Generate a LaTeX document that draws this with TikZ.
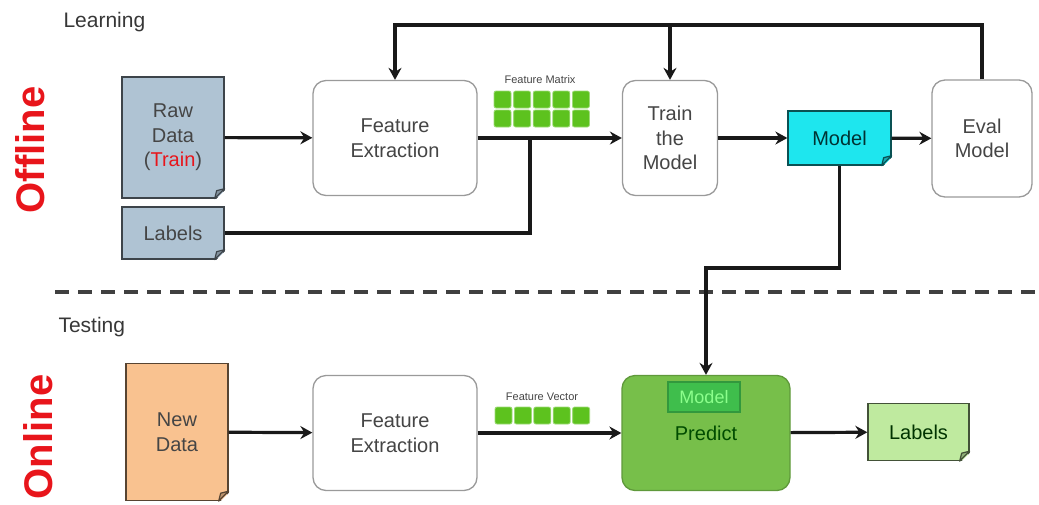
\documentclass[tikz,border=0pt]{standalone}
\usepackage{fontspec}
\setmainfont{Liberation Sans}
\usetikzlibrary{arrows.meta}

\definecolor{rawblue}{HTML}{AFC3D3}
\definecolor{modelcyan}{HTML}{1EE6EE}
\definecolor{neworange}{HTML}{F9C290}
\definecolor{predgreen}{HTML}{77BF4A}
\definecolor{innergreen}{HTML}{3FBE4C}
\definecolor{outgreen}{HTML}{BFEA9F}
\definecolor{sqgreen}{HTML}{5DC21E}
\definecolor{boxgrey}{HTML}{9A9A9A}
\definecolor{textgrey}{HTML}{454545}
\definecolor{sidered}{HTML}{E8151B}

\begin{document}
\begin{tikzpicture}[x=1pt,y=-1pt,
  txt/.style={font=\fontsize{20}{24.5}\selectfont,align=center,text=textgrey},
  box/.style={txt,draw=boxgrey,line width=1.3pt,fill=white,rounded corners=13pt},
  doc/.style={txt,rectangle,inner sep=0pt,draw=#1!35!black,line width=1.3pt,fill=#1},
  arr/.style={line width=3.2pt,draw=black!90,-{Stealth[length=12pt,width=13pt,inset=4pt]}},
  line/.style={line width=3.2pt,draw=black!90},
  sq/.style={fill=sqgreen,draw=sqgreen!60!white,line width=0.8pt,rounded corners=2pt},
  small/.style={font=\fontsize{11}{12}\selectfont,text=textgrey},
  side/.style={font=\fontsize{40}{40}\bfseries,text=sidered,rotate=90}]
  \useasboundingbox (0,0) rectangle (1039,504);

  \node[anchor=west,font=\fontsize{21}{24}\selectfont,text=textgrey!80!black] (learning) at (60,22) {Learning};
  \node[side] (offline) at (30,150) {Offline};
  \node[doc=rawblue,minimum width=102pt,minimum height=121pt] (rawdata) at (173,137.5) {Raw\\Data\\{(}\textcolor{sidered}{Train}{)}};
  \node[doc=rawblue,minimum width=102pt,minimum height=52pt] (labtrain) at (173,233) {Labels};
  \node[box,minimum width=164pt,minimum height=115pt] (fetop) at (395,138) {Feature\\Extraction};
  \node[small] (matrix) at (540,80) {Feature Matrix};
  \foreach \i in {0,...,4} {
    \filldraw[sq] (494+19.6*\i,91) rectangle ++(17,17);
    \filldraw[sq] (494+19.6*\i,110) rectangle ++(17,17);
  }
  \node[box,minimum width=95pt,minimum height=115pt] (train) at (670,138) {Train\\the\\Model};
  \node[doc=modelcyan,minimum width=103pt,minimum height=54pt,text=black!60!teal] (model) at (839.5,138) {Model};
  \node[box,minimum width=100pt,minimum height=117pt] (eval) at (982,138.5) {Eval\\Model};
  \coordinate (join) at (530,138);
  \coordinate (fb) at (0,25);
  \coordinate (down) at (0,268);

  \draw[arr] (rawdata) -- (fetop);
  \draw[arr] (fetop) -- (train);
  \draw[line] (labtrain.east) -| (join);
  \draw[arr] (train) -- (model);
  \draw[arr] (model) -- (eval);
  \draw[arr] (eval.north) |- (fetop.north |- fb) -- (fetop.north);
  \draw[arr] (train.north |- fb) -- (train.north);

  \draw[line width=4pt,draw=black!75,dash pattern=on 14pt off 9pt] (55,292) -- (1039,292);

  \node[anchor=west,font=\fontsize{21}{24}\selectfont,text=textgrey!80!black] (testing) at (55,327) {Testing};
  \node[side] (online) at (38,437) {Online};
  \node[doc=neworange,minimum width=102pt,minimum height=137pt] (newdata) at (177,432) {New\\Data};
  \node[box,minimum width=164pt,minimum height=115pt] (febot) at (395,433) {Feature\\Extraction};
  \node[small] (vector) at (542,397) {Feature Vector};
  \foreach \i in {0,...,4}
    \filldraw[sq] (495+19.4*\i,407) rectangle ++(17,17);
  \node[box,fill=predgreen,draw=predgreen!80!black,minimum width=168pt,minimum height=115pt,text=black!70!green] (predict) at (706,433) {Predict};
  \node[fill=innergreen,draw=innergreen!80!black,line width=1.2pt,minimum width=72pt,minimum height=30pt,inner sep=0pt,font=\fontsize{18}{20}\selectfont,text=green!45!white] (inmodel) at (704,397) {Model};
  \node[doc=outgreen,minimum width=101pt,minimum height=57pt,text=black!80!green] (labout) at (918.5,432) {Labels};

  \foreach \n/\c in {rawdata/rawblue,labtrain/rawblue,model/modelcyan,newdata/neworange,labout/outgreen} {
    \fill[white] ([xshift=-10pt,yshift=-2pt]\n.south -| \n.east) -- ([xshift=2pt,yshift=-2pt]\n.south -| \n.east)
      -- ([xshift=2pt,yshift=10pt]\n.south -| \n.east) -- cycle;
    \filldraw[fill=\c!75!black,draw=\c!35!black,line width=1.2pt,line join=round]
      ([xshift=-10pt]\n.south -| \n.east) -- ([yshift=10pt]\n.south -| \n.east)
      -- ([xshift=-8pt,yshift=8pt]\n.south -| \n.east) -- cycle;
  }

  \draw[arr] (model.south) |- (predict.north |- down) -- (predict.north);
  \draw[arr] (newdata) -- (febot);
  \draw[arr] (febot) -- (predict);
  \draw[arr] (predict) -- (labout);
\end{tikzpicture}
\end{document}
